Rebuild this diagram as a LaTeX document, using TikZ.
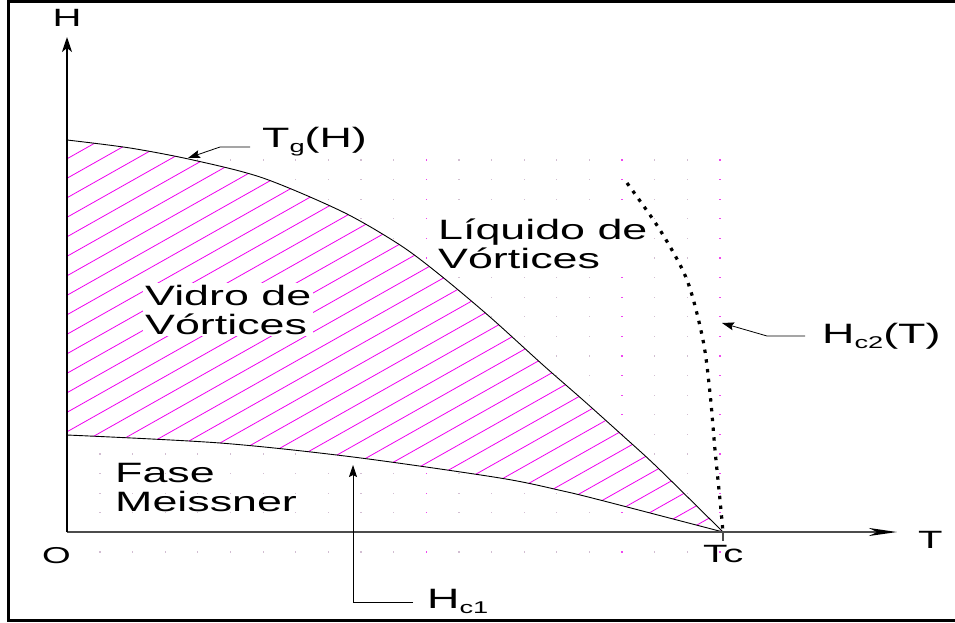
\documentclass[tikz,border=0pt]{standalone}
\usepackage{fontspec}
\setmainfont{Liberation Sans}
\newfontfamily\wf[FakeStretch=1.6]{Liberation Sans}
\usetikzlibrary{arrows.meta}
\newcommand\mysub[1]{\raisebox{-5pt}{\fontsize{17}{17}\selectfont #1}}
\definecolor{hatch}{RGB}{240,0,240}
\definecolor{griddot}{RGB}{210,190,210}
\definecolor{majordot}{RGB}{240,70,240}
\begin{document}
\begin{tikzpicture}[x=1pt,y=-1pt,
  lab/.style={font=\wf\fontsize{28}{29}\selectfont, inner sep=0pt, align=left},
  axlab/.style={font=\wf\fontsize{25}{25}\selectfont, inner sep=0pt},
  curve/.style={line width=0.9pt, black},
  leader/.style={line width=0.8pt, -{Stealth[length=12pt,width=8pt,inset=2pt]}},
]
\useasboundingbox (0,0) rectangle (955,623);
% faint dot grid
\foreach \i in {0,...,19} {
  \foreach \j in {0,...,20} {
    \fill[griddot] ({100+32.63*\i-0.6},{160+19.6*\j-0.6}) rectangle ++(1.2,1.2);
  }
}
\foreach \i in {10,16,19} {
  \foreach \j in {0,...,20} {
    \fill[majordot] ({100+32.63*\i-0.6},{160+19.6*\j-0.6}) rectangle ++(1.2,1.2);
  }
}
% hatched region (vortex glass)
\fill[white] plot[smooth, tension=0.5] coordinates {(67,140) (130,148) (193,160) (263,178) (343,212) (400,245) (440,275) (490,317) (543,365) (583,400) (622,435) (657,467) (723,532)}
  -- plot[smooth, tension=0.5] coordinates {(723,532) (677,520) (600,500) (563,491) (500,478) (353,457) (220,443) (67,435)} -- cycle;
\begin{scope}
\clip plot[smooth, tension=0.5] coordinates {(67,140) (130,148) (193,160) (263,178) (343,212) (400,245) (440,275) (490,317) (543,365) (583,400) (622,435) (657,467) (723,532)}
  -- plot[smooth, tension=0.5] coordinates {(723,532) (677,520) (600,500) (563,491) (500,478) (353,457) (220,443) (67,435)} -- cycle;
\foreach \k in {-3,...,38} {
  \draw[hatch, line width=0.8pt] (67,{178.3+19.5*\k}) -- ++(700,{-0.564*700});
}
\end{scope}
% curves
\draw[curve] plot[smooth, tension=0.5] coordinates {(67,140) (130,148) (193,160) (263,178) (343,212) (400,245) (440,275) (490,317) (543,365) (583,400) (622,435) (657,467) (723,532)};
\draw[curve] plot[smooth, tension=0.5] coordinates {(67,435) (220,443) (353,457) (500,478) (563,491) (600,500) (677,520) (723,532)};
\draw[line width=3.2pt, dash pattern=on 3.4pt off 6.4pt] plot[smooth, tension=0.5] coordinates {(627,183) (660,230) (687,280) (703,340) (710,393) (715,450) (720,500) (723,532)};
% axes
\coordinate (O) at (67,532);
\coordinate (xend) at (897,532);
\coordinate (yend) at (67,37);
\coordinate (tc) at (723,532);
\coordinate (tctick) at (723,541);
\draw[line width=1.5pt, black!70, -{Stealth[length=28pt,width=8pt,inset=8pt,color=black]}] (O) -- (xend);
\draw[line width=1.6pt, -{Stealth[length=15pt,width=10pt,inset=4pt]}] (O) -- (yend);
\draw[line width=1.2pt, black!70] (tc) -- (tctick);
% frame
\draw[line width=3pt] (960,1.5) -- (8,1.5) -- (8,620) -- (960,620);
% axis labels
\node[axlab, anchor=base] (Hlab) at (67,27) {H};
\node[axlab, anchor=base west] (Tlab) at (918,548) {T};
\node[font=\wf\fontsize{23}{23}\selectfont, inner sep=0pt, anchor=base west] (Olab) at (42,563) {O};
\node[axlab, anchor=base west] (Tclab) at (703,562) {Tc};
% curve labels and leaders
\node[lab, anchor=base west] (tg) at (262,147) {T\mysub{g}(H)};
\node[lab, anchor=base west] (hc2) at (822,343) {H\mysub{c2}(T)};
\node[lab, anchor=base west] (hc1) at (427,608) {H\mysub{c1}};
\coordinate (tgA) at (250,147);
\coordinate (tgB) at (220,147);
\coordinate (tgtip) at (188,158);
\draw[leader] (tgA) -- (tgB) -- (tgtip);
\coordinate (hcA) at (805,336);
\coordinate (hcB) at (767,336);
\coordinate (hctip) at (722,323);
\draw[leader] (hcA) -- (hcB) -- (hctip);
\coordinate (hoA) at (413,602);
\coordinate (hoB) at (353,602);
\coordinate (hotip) at (353,465);
\draw[leader] (hoA) -- (hoB) -- (hotip);
% region labels (base anchor = baseline of last line)
\node[lab, fill=white, inner sep=2pt, anchor=base west] (vidro) at (143,334) {Vidro de\\Vórtices};
\node[lab, fill=white, inner sep=2pt, anchor=base west] (liq) at (436,268) {Líquido de\\Vórtices};
\node[lab, anchor=base west] (fase) at (115,511) {Fase\\Meissner};
\end{tikzpicture}
\end{document}
